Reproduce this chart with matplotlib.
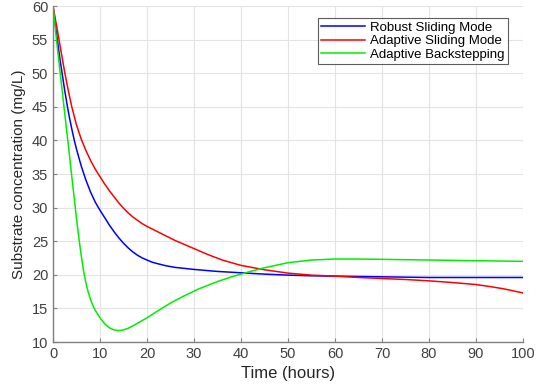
import numpy as np
import matplotlib
matplotlib.use('Agg')
from matplotlib import pyplot as plt

plt.rcParams['font.family'] = ['Liberation Sans', 'DejaVu Sans']

# values
t_blue = [0, 0.5, 1, 1.5, 2, 2.5, 3, 3.5, 4, 4.5, 5, 6, 7, 8, 9, 10, 11, 12, 13, 14, 15, 16, 17, 18, 19, 20, 21, 22, 24, 26, 28, 30, 35, 40, 45, 50, 55, 60, 70, 80, 90, 100]
s_blue = [60, 57.2, 54.6, 52.0, 49.7, 47.4, 45.3, 43.4, 41.7, 40.1, 38.7, 36.2, 34.1, 32.3, 30.8, 29.6, 28.5, 27.4, 26.4, 25.5, 24.7, 24.0, 23.4, 22.9, 22.5, 22.2, 21.9, 21.7, 21.35, 21.1, 20.95, 20.8, 20.5, 20.3, 20.1, 19.95, 19.85, 19.8, 19.7, 19.6, 19.6, 19.6]

t_red = [0, 1, 2, 2.5, 3, 3.5, 4, 5, 6, 7, 8, 9, 10, 11, 12, 13, 14, 15, 16, 17, 18, 19, 20, 22, 24, 26, 28, 30, 33, 36, 40, 45, 50, 55, 60, 65, 70, 75, 80, 85, 90, 93, 96, 98, 100]
s_red = [60, 56.1, 52.1, 50.1, 48.3, 46.6, 45.0, 42.3, 40.2, 38.5, 37.0, 35.7, 34.6, 33.5, 32.5, 31.6, 30.7, 29.9, 29.2, 28.6, 28.1, 27.6, 27.2, 26.5, 25.8, 25.1, 24.5, 23.9, 23.0, 22.2, 21.4, 20.75, 20.25, 19.95, 19.8, 19.6, 19.45, 19.3, 19.1, 18.85, 18.55, 18.25, 17.9, 17.6, 17.3]

t_green = [0, 0.5, 1, 1.5, 2, 2.5, 3, 3.5, 4, 4.5, 5, 5.5, 6, 6.5, 7, 7.5, 8, 8.5, 9, 10, 11, 12, 13, 14, 15, 16, 17, 18, 20, 22, 25, 28, 31, 35, 38, 40, 42, 45, 50, 55, 60, 65, 70, 80, 90, 100]
s_green = [60, 56.6, 53.3, 50.2, 47.1, 44.0, 40.9, 37.8, 34.6, 31.5, 28.4, 25.5, 22.9, 20.6, 18.8, 17.4, 16.3, 15.4, 14.7, 13.6, 12.7, 12.1, 11.8, 11.7, 11.8, 12.05, 12.4, 12.8, 13.6, 14.5, 15.8, 16.9, 17.9, 19.0, 19.7, 20.1, 20.5, 21.05, 21.8, 22.2, 22.35, 22.35, 22.3, 22.2, 22.1, 22.0]

labels = ['Robust Sliding Mode', 'Adaptive Sliding Mode', 'Adaptive Backstepping']

fig = plt.figure(figsize=(5.45, 3.85), dpi=100)
ax = fig.add_axes([53/545, 43/385, 470/545, 336/385])

ax.plot(t_blue, s_blue, color='#0000ff', lw=1.1, label=labels[0])
ax.plot(t_red, s_red, color='#ff0000', lw=1.1, label=labels[1])
ax.plot(t_green, s_green, color='#00ee00', lw=1.1, label=labels[2])

ax.set_xlim(0, 100)
ax.set_ylim(10, 60)
ax.set_xticks(np.arange(0, 101, 10))
ax.set_yticks(np.arange(10, 61, 5))
ax.grid(True, color='#e3e3e3', lw=0.8)
ax.set_axisbelow(True)

for s in ['top', 'right']:
    ax.spines[s].set_visible(False)
for s in ['left', 'bottom']:
    ax.spines[s].set_color('#808080')
    ax.spines[s].set_linewidth(1.0)
ax.tick_params(direction='in', length=3, color='#808080', labelcolor='#404040', labelsize=10.5)

ax.set_xlabel('Time (hours)', fontsize=12, color='#262626', labelpad=4)
ax.set_ylabel('Substrate concentration (mg/L)', fontsize=11, color='#262626', labelpad=4)

leg = ax.legend(loc='upper right', bbox_to_anchor=(0.968, 0.964), fontsize=9.5, frameon=True,
                fancybox=False, handlelength=3.3, borderpad=0.25, labelspacing=0.1,
                handletextpad=0.4, borderaxespad=0)
leg.get_frame().set_edgecolor('#333333')
leg.get_frame().set_linewidth(0.8)

fig.savefig('out.png', dpi=100)
